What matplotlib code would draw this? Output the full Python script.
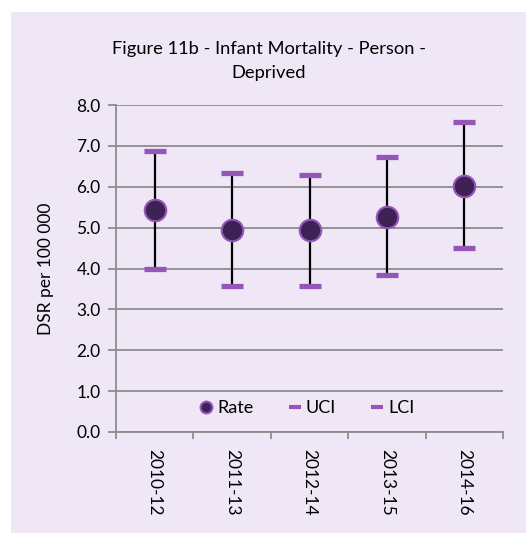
import matplotlib
matplotlib.use("Agg")
from matplotlib import pyplot as plt
from matplotlib.lines import Line2D
import numpy as np

# Data
periods = ["2010-12", "2011-13", "2012-14", "2013-15", "2014-16"]
rate = [5.42, 4.95, 4.93, 5.26, 6.03]
uci = [6.88, 6.34, 6.29, 6.72, 7.59]
lci = [4.00, 3.56, 3.56, 3.83, 4.49]

bg = "#efe7f5"
grid_col = "#8c8c8c"
dot_col = "#3f2255"
edge_col = "#9457b8"
cap_col = "#9556b8"

plt.rcParams["font.family"] = ["Lato", "DejaVu Sans"]

fig = plt.figure(figsize=(5.26, 5.33), dpi=100)
fig.patch.set_facecolor("white")
# panel background
fig.patches.append(plt.Rectangle((11 / 526, 0), 1, 1 - 12 / 533, transform=fig.transFigure,
                                 facecolor=bg, edgecolor="none", zorder=-10))

ax = fig.add_axes([116 / 526, 1 - 432 / 533, (503 - 116) / 526, (432 - 105) / 533])
ax.set_facecolor(bg)

x = np.arange(len(periods))

# whiskers
ax.vlines(x, lci, uci, color="black", linewidth=1.6, zorder=3)
ax.plot(x, uci, linestyle="none", marker="_", markersize=16, mew=3.8, color=cap_col, zorder=4)
ax.plot(x, lci, linestyle="none", marker="_", markersize=16, mew=3.8, color=cap_col, zorder=4)
ax.plot(x, rate, linestyle="none", marker="o", markersize=15.5, markerfacecolor=dot_col,
        markeredgecolor=edge_col, markeredgewidth=1.5, zorder=5)

ax.set_ylim(0, 8)
ax.set_yticks(np.arange(0, 8.1, 1))
ax.set_yticklabels([f"{v:.1f}" for v in np.arange(0, 8.1, 1)], fontsize=12.5)
ax.yaxis.grid(True, color=grid_col, linewidth=1.3)
ax.set_axisbelow(True)

ax.set_xlim(-0.5, len(periods) - 0.5)
ax.set_xticks(np.arange(-0.5, len(periods), 1))
ax.set_xticklabels([])
ax.set_xticks(x, minor=True)
ax.set_xticklabels(periods, minor=True, rotation=-90, fontsize=12.5)
ax.tick_params(axis="x", which="minor", length=0, pad=12)
ax.tick_params(axis="x", which="major", length=5, width=1.3, color=grid_col, direction="out")
ax.tick_params(axis="y", length=6, width=1.3, color=grid_col, pad=5)

for s in ["top", "right"]:
    ax.spines[s].set_visible(False)
for s in ["left", "bottom"]:
    ax.spines[s].set_color(grid_col)
    ax.spines[s].set_linewidth(1.3)

ax.set_ylabel("DSR per 100 000", fontsize=12.5, labelpad=16)

h_rate = Line2D([], [], linestyle="none", marker="o", markersize=8.5, markerfacecolor=dot_col,
                markeredgecolor=edge_col, markeredgewidth=1.5)
h_uci = Line2D([], [], linestyle="none", marker="_", markersize=8, mew=3, color=cap_col)
h_lci = Line2D([], [], linestyle="none", marker="_", markersize=8, mew=3, color=cap_col)
ax.legend([h_rate, h_uci, h_lci], ["Rate", "UCI", "LCI"], loc="center",
          bbox_to_anchor=(0.488, 24 / 327), ncol=3, frameon=False, fontsize=13,
          handletextpad=0.0, columnspacing=1.7, handlelength=1.2, borderpad=0)

fig.text(268.5 / 526, 1 - 61 / 533, "Figure 11b - Infant Mortality - Person -\nDeprived",
         ha="center", va="center", fontsize=13.2, linespacing=1.55)

fig.savefig("out.png", dpi=100, facecolor=fig.get_facecolor())
